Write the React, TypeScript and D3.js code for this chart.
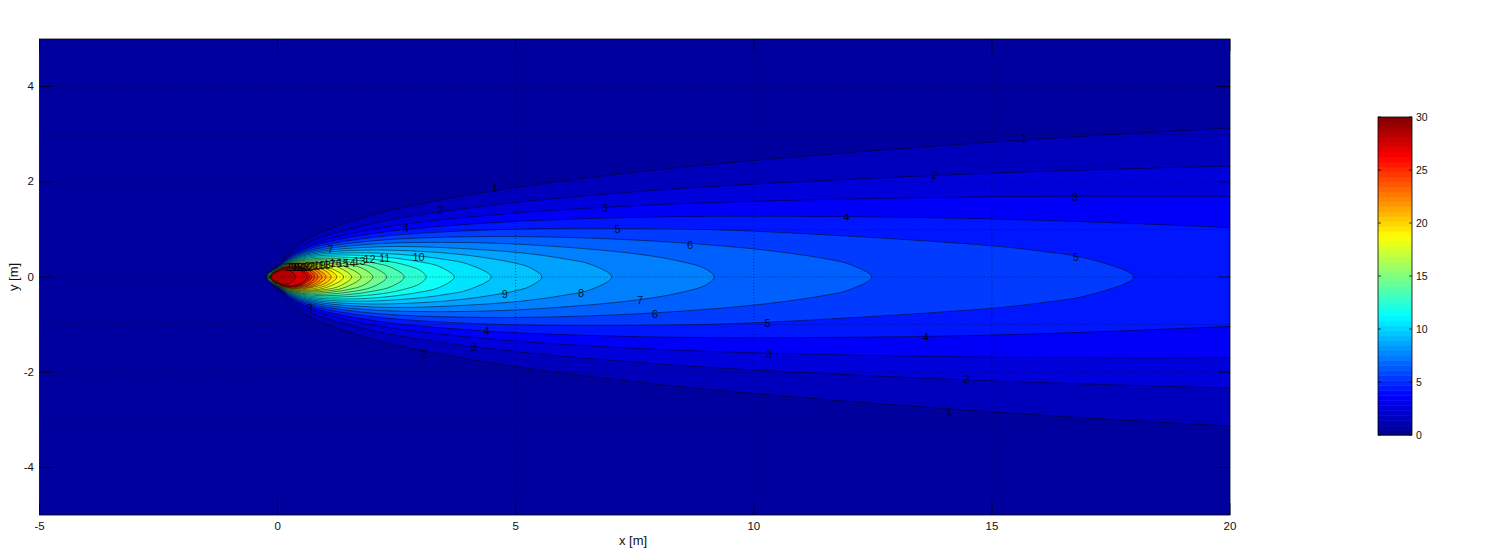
import React from "react";
import * as d3 from "d3";

const W = 1509, H = 553;

// Contour levels: [x, half-width] stations along the upper edge; the plume is mirrored about y = 0.
const contour1 = [[-0.26,0],[-0.1,0.17],[0,0.27],[0.1,0.364],[0.25,0.543],[0.5,0.732],[1,0.981],[2,1.306],[3,1.538],[5,1.883],[7.5,2.199],[10,2.448],[15,2.834],[20,3.131],[22,3.233]];
const contour2 = [[-0.255,0],[-0.1,0.165],[0,0.25],[0.1,0.333],[0.25,0.491],[0.5,0.653],[1,0.862],[2,1.126],[3,1.308],[5,1.566],[7.5,1.789],[10,1.952],[15,2.181],[20,2.332],[22,2.377]];
const contour3 = [[-0.25,0],[-0.1,0.16],[0,0.235],[0.1,0.313],[0.25,0.457],[0.5,0.602],[1,0.785],[2,1.006],[3,1.152],[5,1.346],[7.5,1.497],[10,1.591],[15,1.685],[20,1.697],[22,1.685]];
const contour4 = [[-0.245,0],[-0.1,0.155],[0,0.225],[0.1,0.298],[0.25,0.431],[0.5,0.563],[1,0.725],[2,0.912],[3,1.028],[5,1.167],[7.5,1.25],[10,1.276],[15,1.218],[20,1.035],[22,0.921]];
const contour5 = [[-0.24,0],[-0.1,0.15],[0,0.215],[0.1,0.286],[0.25,0.41],[0.5,0.531],[1,0.675],[2,0.832],[3,0.92],[5,1.005],[7.5,1.017],[10,0.962],[15,0.656],[16,0.545],[17,0.39],[17.98,0]];
const contour6 = [[-0.235,0],[-0.1,0.145],[0,0.21],[0.1,0.276],[0.25,0.392],[0.5,0.503],[1,0.63],[2,0.759],[3,0.82],[5,0.849],[7.5,0.776],[10,0.591],[11.5,0.385],[12,0.27],[12.48,0]];
const contour7 = [[-0.23,0],[-0.1,0.14],[0,0.2],[0.1,0.267],[0.25,0.377],[0.5,0.479],[1,0.591],[2,0.692],[3,0.726],[5,0.692],[7.5,0.489],[8.5,0.319],[9,0.164],[9.17,0]];
const contour8 = [[-0.225,0],[-0.1,0.135],[0,0.195],[0.1,0.259],[0.25,0.363],[0.5,0.456],[1,0.554],[2,0.629],[3,0.634],[5,0.519],[6,0.386],[6.6,0.256],[7.02,0]];
const contour9 = [[-0.22,0],[-0.1,0.13],[0,0.19],[0.1,0.252],[0.25,0.349],[0.5,0.435],[1,0.52],[2,0.567],[3,0.539],[4,0.455],[5,0.289],[5.3,0.196],[5.55,0]];
const contour10 = [[-0.215,0],[-0.1,0.125],[0,0.185],[0.1,0.245],[0.25,0.337],[0.5,0.416],[1,0.486],[2,0.504],[3,0.436],[3.5,0.37],[4,0.27],[4.49,0]];
const contour11 = [[-0.21,0],[-0.1,0.12],[0,0.18],[0.1,0.239],[0.25,0.326],[0.5,0.397],[1,0.455],[2,0.441],[3,0.317],[3.4,0.217],[3.71,0]];
const contour12 = [[-0.205,0],[-0.1,0.115],[0,0.175],[0.1,0.233],[0.25,0.315],[0.5,0.38],[1,0.423],[2,0.374],[2.6,0.273],[3,0.134],[3.12,0]];
const contour13 = [[-0.2,0],[-0.1,0.11],[0,0.17],[0.1,0.227],[0.25,0.305],[0.5,0.363],[1,0.392],[1.5,0.368],[2,0.299],[2.4,0.196],[2.66,0]];
const contour14 = [[-0.195,0],[-0.1,0.105],[0,0.165],[0.1,0.222],[0.25,0.295],[0.5,0.346],[1,0.362],[1.5,0.316],[2,0.207],[2.29,0]];
const contour15 = [[-0.19,0],[-0.1,0.1],[0,0.16],[0.1,0.217],[0.25,0.286],[0.5,0.33],[1,0.33],[1.5,0.26],[1.8,0.172],[2,0]];
const contour16 = [[-0.185,0],[-0.1,0.095],[0,0.155],[0.1,0.212],[0.25,0.277],[0.5,0.314],[1,0.297],[1.4,0.223],[1.755,0]];
const contour17 = [[-0.18,0],[-0.1,0.09],[0,0.15],[0.1,0.208],[0.25,0.268],[0.5,0.299],[1,0.264],[1.3,0.192],[1.555,0]];
const contour18 = [[-0.175,0],[-0.1,0.088],[0,0.145],[0.1,0.203],[0.25,0.26],[0.5,0.283],[1,0.227],[1.387,0]];
const contour19 = [[-0.17,0],[-0.1,0.086],[0,0.14],[0.1,0.199],[0.25,0.252],[0.5,0.268],[1,0.186],[1.245,0]];
const contour20 = [[-0.165,0],[-0.1,0.084],[0,0.14],[0.1,0.195],[0.25,0.243],[0.5,0.252],[1,0.135],[1.124,0]];
const contour21 = [[-0.16,0],[-0.1,0.082],[0,0.135],[0.1,0.191],[0.25,0.235],[0.5,0.236],[0.8,0.175],[1.02,0]];
const contour22 = [[-0.155,0],[-0.1,0.08],[0,0.13],[0.1,0.187],[0.25,0.227],[0.5,0.221],[0.8,0.137],[0.93,0]];
const contour23 = [[-0.152,0],[-0.1,0.078],[0,0.13],[0.1,0.184],[0.25,0.22],[0.5,0.204],[0.7,0.147],[0.85,0]];
const contour24 = [[-0.15,0],[-0.1,0.076],[0,0.125],[0.1,0.18],[0.25,0.212],[0.5,0.187],[0.7,0.11],[0.78,0]];
const contour25 = [[-0.147,0],[-0.1,0.074],[0,0.12],[0.1,0.176],[0.25,0.204],[0.5,0.169],[0.72,0]];
const contour26 = [[-0.143,0],[-0.1,0.072],[0,0.12],[0.1,0.173],[0.25,0.196],[0.5,0.15],[0.665,0]];
const contour27 = [[-0.14,0],[-0.1,0.07],[0,0.115],[0.1,0.169],[0.25,0.188],[0.5,0.128],[0.616,0]];
const contour28 = [[-0.13,0],[-0.1,0.05],[0,0.11],[0.1,0.15],[0.25,0.14],[0.38,0]];
const contours = [contour1,contour2,contour3,contour4,contour5,contour6,contour7,contour8,contour9,contour10,contour11,contour12,contour13,contour14,contour15,contour16,contour17,contour18,contour19,contour20,contour21,contour22,contour23,contour24,contour25,contour26,contour27,contour28];

// Contour labels: text, x, y in data units.
const labelText = ["1","2","3","4","5","6","5","3","1","2","4","7","10","11","12","13","14","15","16","17","18","19","20","21","22","23","24","25","26","27","1","2","3","4","5","6","7","8","9","4","3","2","3"];
const labelX = [15.67,13.8,16.74,11.95,16.76,8.66,7.14,6.87,4.56,3.42,2.69,1.11,2.96,2.25,1.93,1.72,1.51,1.37,1.22,1.09,0.99,0.88,0.78,0.69,0.61,0.53,0.46,0.4,0.34,0.28,14.1,14.47,10.32,13.61,10.29,7.92,7.61,6.37,4.77,4.39,4.12,3.07,0.67];
const labelY = [2.91,2.15,1.69,1.27,0.43,0.68,1.0,1.46,1.86,1.4,1.02,0.58,0.41,0.4,0.38,0.33,0.3,0.3,0.29,0.28,0.26,0.26,0.24,0.24,0.22,0.22,0.21,0.2,0.2,0.2,-2.83,-2.15,-1.61,-1.27,-0.96,-0.77,-0.49,-0.33,-0.35,-1.14,-1.48,-1.61,-0.66];

const xTicks = [-5,0,5,10,15,20];
const yTicks = [-4,-2,0,2,4];
const gridX = [0,5,10,15];
const gridY = [-4,-3,-2,-1,0,1,2,3,4];
const cbTicks = [0,5,10,15,20,25,30];
const xLabel = "x [m]";
const yLabel = "y [m]";

const x = d3.scaleLinear().domain([-5,20]).range([39.5,1230]);
const y = d3.scaleLinear().domain([-5,5]).range([515,39]);
const cb = d3.scaleLinear().domain([0,30]).range([435,117]);
const jet = d3.scaleLinear<string>()
  .domain([0,0.125,0.375,0.625,0.875,1])
  .range(["#00008f","#0000ff","#00ffff","#ffff00","#ff0000","#800000"]);
const colour = (v: number) => jet(v / 30);

const outline = d3.line<number[]>().x(p => x(p[0])).y(p => y(p[1])).curve(d3.curveCatmullRomClosed.alpha(0.5));
const closed = (c: number[][]) => {
  const tipped = c[c.length - 1][1] === 0;
  const mirror = (tipped ? c.slice(1, -1) : c.slice(1)).reverse().map(p => [p[0], -p[1]]);
  return outline([...c, ...mirror]) as string;
};

const font = "Liberation Sans, Arial, sans-serif";
const steps = d3.range(64);

export default function App() {
  return (
    <svg width={W} height={H} style={{ position: "absolute", left: 0, top: 0, background: "#fff" }} fontFamily={font}>
      <defs>
        <clipPath id="plot"><rect x={x(-5)} y={y(5)} width={x(20)-x(-5)} height={y(-5)-y(5)} /></clipPath>
        <filter id="soft" x="0" y="0" width="100%" height="100%"><feGaussianBlur stdDeviation="0.35" /></filter>
      </defs>
      <rect x={x(-5)} y={y(5)} width={x(20)-x(-5)} height={y(-5)-y(5)} fill={colour(0.5)} />
      <g clipPath="url(#plot)">
        <g filter="url(#soft)">
          {contours.map((c, i) => (
            <path key={i} d={closed(c)} fill={colour(i + 1.5)} stroke="#000" strokeOpacity={0.7} strokeWidth={0.7} />
          ))}
        </g>
        {gridX.map(v => <line key={v} x1={x(v)} x2={x(v)} y1={y(-5)} y2={y(5)} stroke="#000" strokeWidth={0.7} strokeDasharray="1 2" opacity={0.7} />)}
        {gridY.map(v => <line key={v} x1={x(-5)} x2={x(20)} y1={y(v)} y2={y(v)} stroke="#000" strokeWidth={0.7} strokeDasharray="1 2" opacity={0.7} />)}
        {labelText.map((t, i) => (
          <text key={i} x={x(labelX[i])} y={y(labelY[i])} fontSize={11} textAnchor="middle" dominantBaseline="central" fill="#000" fillOpacity={0.85}>{t}</text>
        ))}
      </g>
      <rect x={x(-5)} y={y(5)} width={x(20)-x(-5)} height={y(-5)-y(5)} fill="none" stroke="#000" strokeWidth={0.8} />
      {xTicks.map(v => (
        <g key={v}>
          <line x1={x(v)} x2={x(v)} y1={y(-5)} y2={y(-5)-12} stroke="#000" strokeWidth={0.7} />
          <line x1={x(v)} x2={x(v)} y1={y(5)} y2={y(5)+12} stroke="#000" strokeWidth={0.7} />
          <text x={x(v)} y={530} fontSize={11.5} textAnchor="middle" fill="#111">{v}</text>
        </g>
      ))}
      {yTicks.map(v => (
        <g key={v}>
          <line x1={x(-5)} x2={x(-5)+12} y1={y(v)} y2={y(v)} stroke="#000" strokeWidth={0.7} />
          <line x1={x(20)} x2={x(20)-12} y1={y(v)} y2={y(v)} stroke="#000" strokeWidth={0.7} />
          <text x={34} y={y(v)+3.5} fontSize={11.5} textAnchor="end" fill="#111">{v}</text>
        </g>
      ))}
      <text x={633} y={545} fontSize={13} textAnchor="middle" fill="#111">{xLabel}</text>
      <text transform={`translate(18,${y(0)}) rotate(-90)`} fontSize={13} textAnchor="middle" fill="#111">{yLabel}</text>

      {steps.map(i => (
        <rect key={i} x={1378} width={34} y={cb(((i + 1) * 30) / 64)} height={cb(0) - cb(30 / 64) + 0.5} fill={colour(((i + 0.5) * 30) / 64)} />
      ))}
      <rect x={1378} y={cb(30)} width={34} height={cb(0)-cb(30)} fill="none" stroke="#000" strokeWidth={0.8} />
      {cbTicks.map(v => (
        <g key={v}>
          <line x1={1378} x2={1381} y1={cb(v)} y2={cb(v)} stroke="#000" strokeWidth={0.7} />
          <line x1={1412} x2={1409} y1={cb(v)} y2={cb(v)} stroke="#000" strokeWidth={0.7} />
          <text x={1416} y={cb(v)+4} fontSize={10.5} fill="#111">{v}</text>
        </g>
      ))}
    </svg>
  );
}
